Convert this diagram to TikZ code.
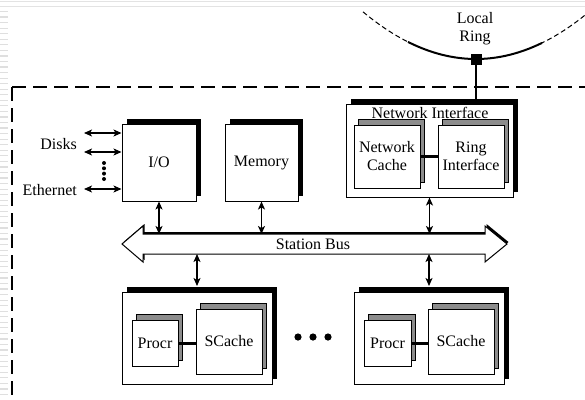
\documentclass[tikz,border=0pt]{standalone}
\usepackage{fontspec}
\setmainfont{Liberation Serif}
\usetikzlibrary{arrows.meta,shadows}
\begin{document}
\begin{tikzpicture}[x=1pt,y=-1pt,
  every node/.style={font=\fontsize{16}{18}\selectfont, inner sep=0pt},
  unit/.style={draw=black, line width=1pt, fill=white,
    general shadow={shadow xshift=5pt, shadow yshift=5.5pt, fill=black}},
  part/.style={draw=black, line width=0.9pt, fill=white,
    general shadow={shadow xshift=4.5pt, shadow yshift=5.5pt, fill=gray!90, draw=black, line width=0.9pt}},
  link/.style={{Stealth[length=8pt,width=7pt,inset=2pt]}-{Stealth[length=8pt,width=7pt,inset=2pt]}, line width=1.2pt},
  wire/.style={line width=3pt},
  frame/.style={line width=1.3pt, dash pattern=on 14pt off 7pt},
  ringline/.style={line width=2pt},
  ringdash/.style={line width=1pt, dash pattern=on 5pt off 3pt}
]
\useasboundingbox (0,0) rectangle (585,399);
\fill[white] (0,0) rectangle (585,399);

% faint page rulings along the top and left edge
\draw[gray!22, line width=1.2pt] (0,1.2) -- (585,1.2) (0,6.2) -- (585,6.2);
\foreach \y in {11.5,17.05,...,399} \draw[gray!25, line width=1.2pt] (0,\y) -- (8,\y);

% station boundary
\draw[frame] (12,87) -- (585,87);
\draw[frame] (12,87) -- (12,399);

% local ring
\draw[ringdash] plot[domain=363:410, samples=12, smooth] (\x, {59-0.0037*(\x-476)^2});
\draw[ringline] plot[domain=408:542, samples=30, smooth] (\x, {59-0.0037*(\x-476)^2});
\draw[ringdash] plot[domain=540:585, samples=12, smooth] (\x, {59-0.0037*(\x-476)^2});
\node[align=center] (ringlbl) at (475,29) {Local\\Ring};
\node[fill=black, minimum size=11pt] (tap) at (476,59) {};

% network interface
\draw[line width=2pt] (tap.south) -- (tap.south |- 0,104);
\node[unit, minimum width=167pt, minimum height=93pt] (ni) at (429.5,150.5) {};
\node[part, minimum width=66pt, minimum height=63pt, align=center] (nc) at (387,156.5) {Network\\Cache};
\node[part, minimum width=66pt, minimum height=63pt, align=center] (ri) at (471,156.5) {Ring\\Interface};
\draw[wire] (nc.east) -- (ri.west);
\node (nilbl) at (430,113) {Network Interface};

% I/O and memory
\node[unit, minimum width=74pt, minimum height=77pt] (io) at (159,162.5) {I/O};
\node[unit, minimum width=73pt, minimum height=77pt] (mem) at (261.5,162.5) {Memory};

% peripheral connections
\coordinate (d1) at (84,133);
\coordinate (d2) at (84,152);
\coordinate (d3) at (84,189);
\draw[link] (d1) -- (d1 -| io.west);
\draw[link] (d2) -- (d2 -| io.west);
\draw[link] (d3) -- (d3 -| io.west);
\foreach \y in {163,168.3,173.6,179} \fill (104,\y) circle (2pt);
\node[anchor=east] (disks) at (77,144) {Disks};
\node[anchor=east] (eth) at (77,190) {Ethernet};

% station bus
\draw[fill=white, line width=1pt, general shadow={shadow xshift=1.5pt, shadow yshift=2pt, fill=black}]
  (122,244) -- (143,226) -- (143,234) -- (485,234) -- (485,226) -- (507,244)
  -- (485,262) -- (485,254) -- (143,254) -- (143,262) -- cycle;
\coordinate (bustop) at (313,234);
\coordinate (busbot) at (313,254);
\node (bus) at (313,244) {Station Bus};

% processing modules
\node[unit, minimum width=150pt, minimum height=92pt] (p1) at (197,338) {};
\node[part, minimum width=46pt, minimum height=46pt] (pr1) at (155,343) {Procr};
\node[part, minimum width=66pt, minimum height=65pt] (sc1) at (229,341.5) {SCache};
\draw[wire] (pr1.east) -- (pr1.east -| sc1.west);

\node[unit, minimum width=150pt, minimum height=92pt] (p2) at (429,338) {};
\node[part, minimum width=47pt, minimum height=46pt] (pr2) at (387.5,343) {Procr};
\node[part, minimum width=66pt, minimum height=65pt] (sc2) at (461,341.5) {SCache};
\draw[wire] (pr2.east) -- (pr2.east -| sc2.west);

\foreach \x in {298,313,328} \fill (\x,337) circle (3.6pt);

% bus connections
\draw[link] (io.south) -- (io.south |- bustop);
\draw[link] (mem.south) -- (mem.south |- bustop);
\draw[link] (ni.south) -- (ni.south |- bustop);
\draw[link] (busbot -| p1.north) -- ([yshift=5.5pt]p1.north);
\draw[link] (busbot -| p2.north) -- ([yshift=5.5pt]p2.north);
\end{tikzpicture}
\end{document}
